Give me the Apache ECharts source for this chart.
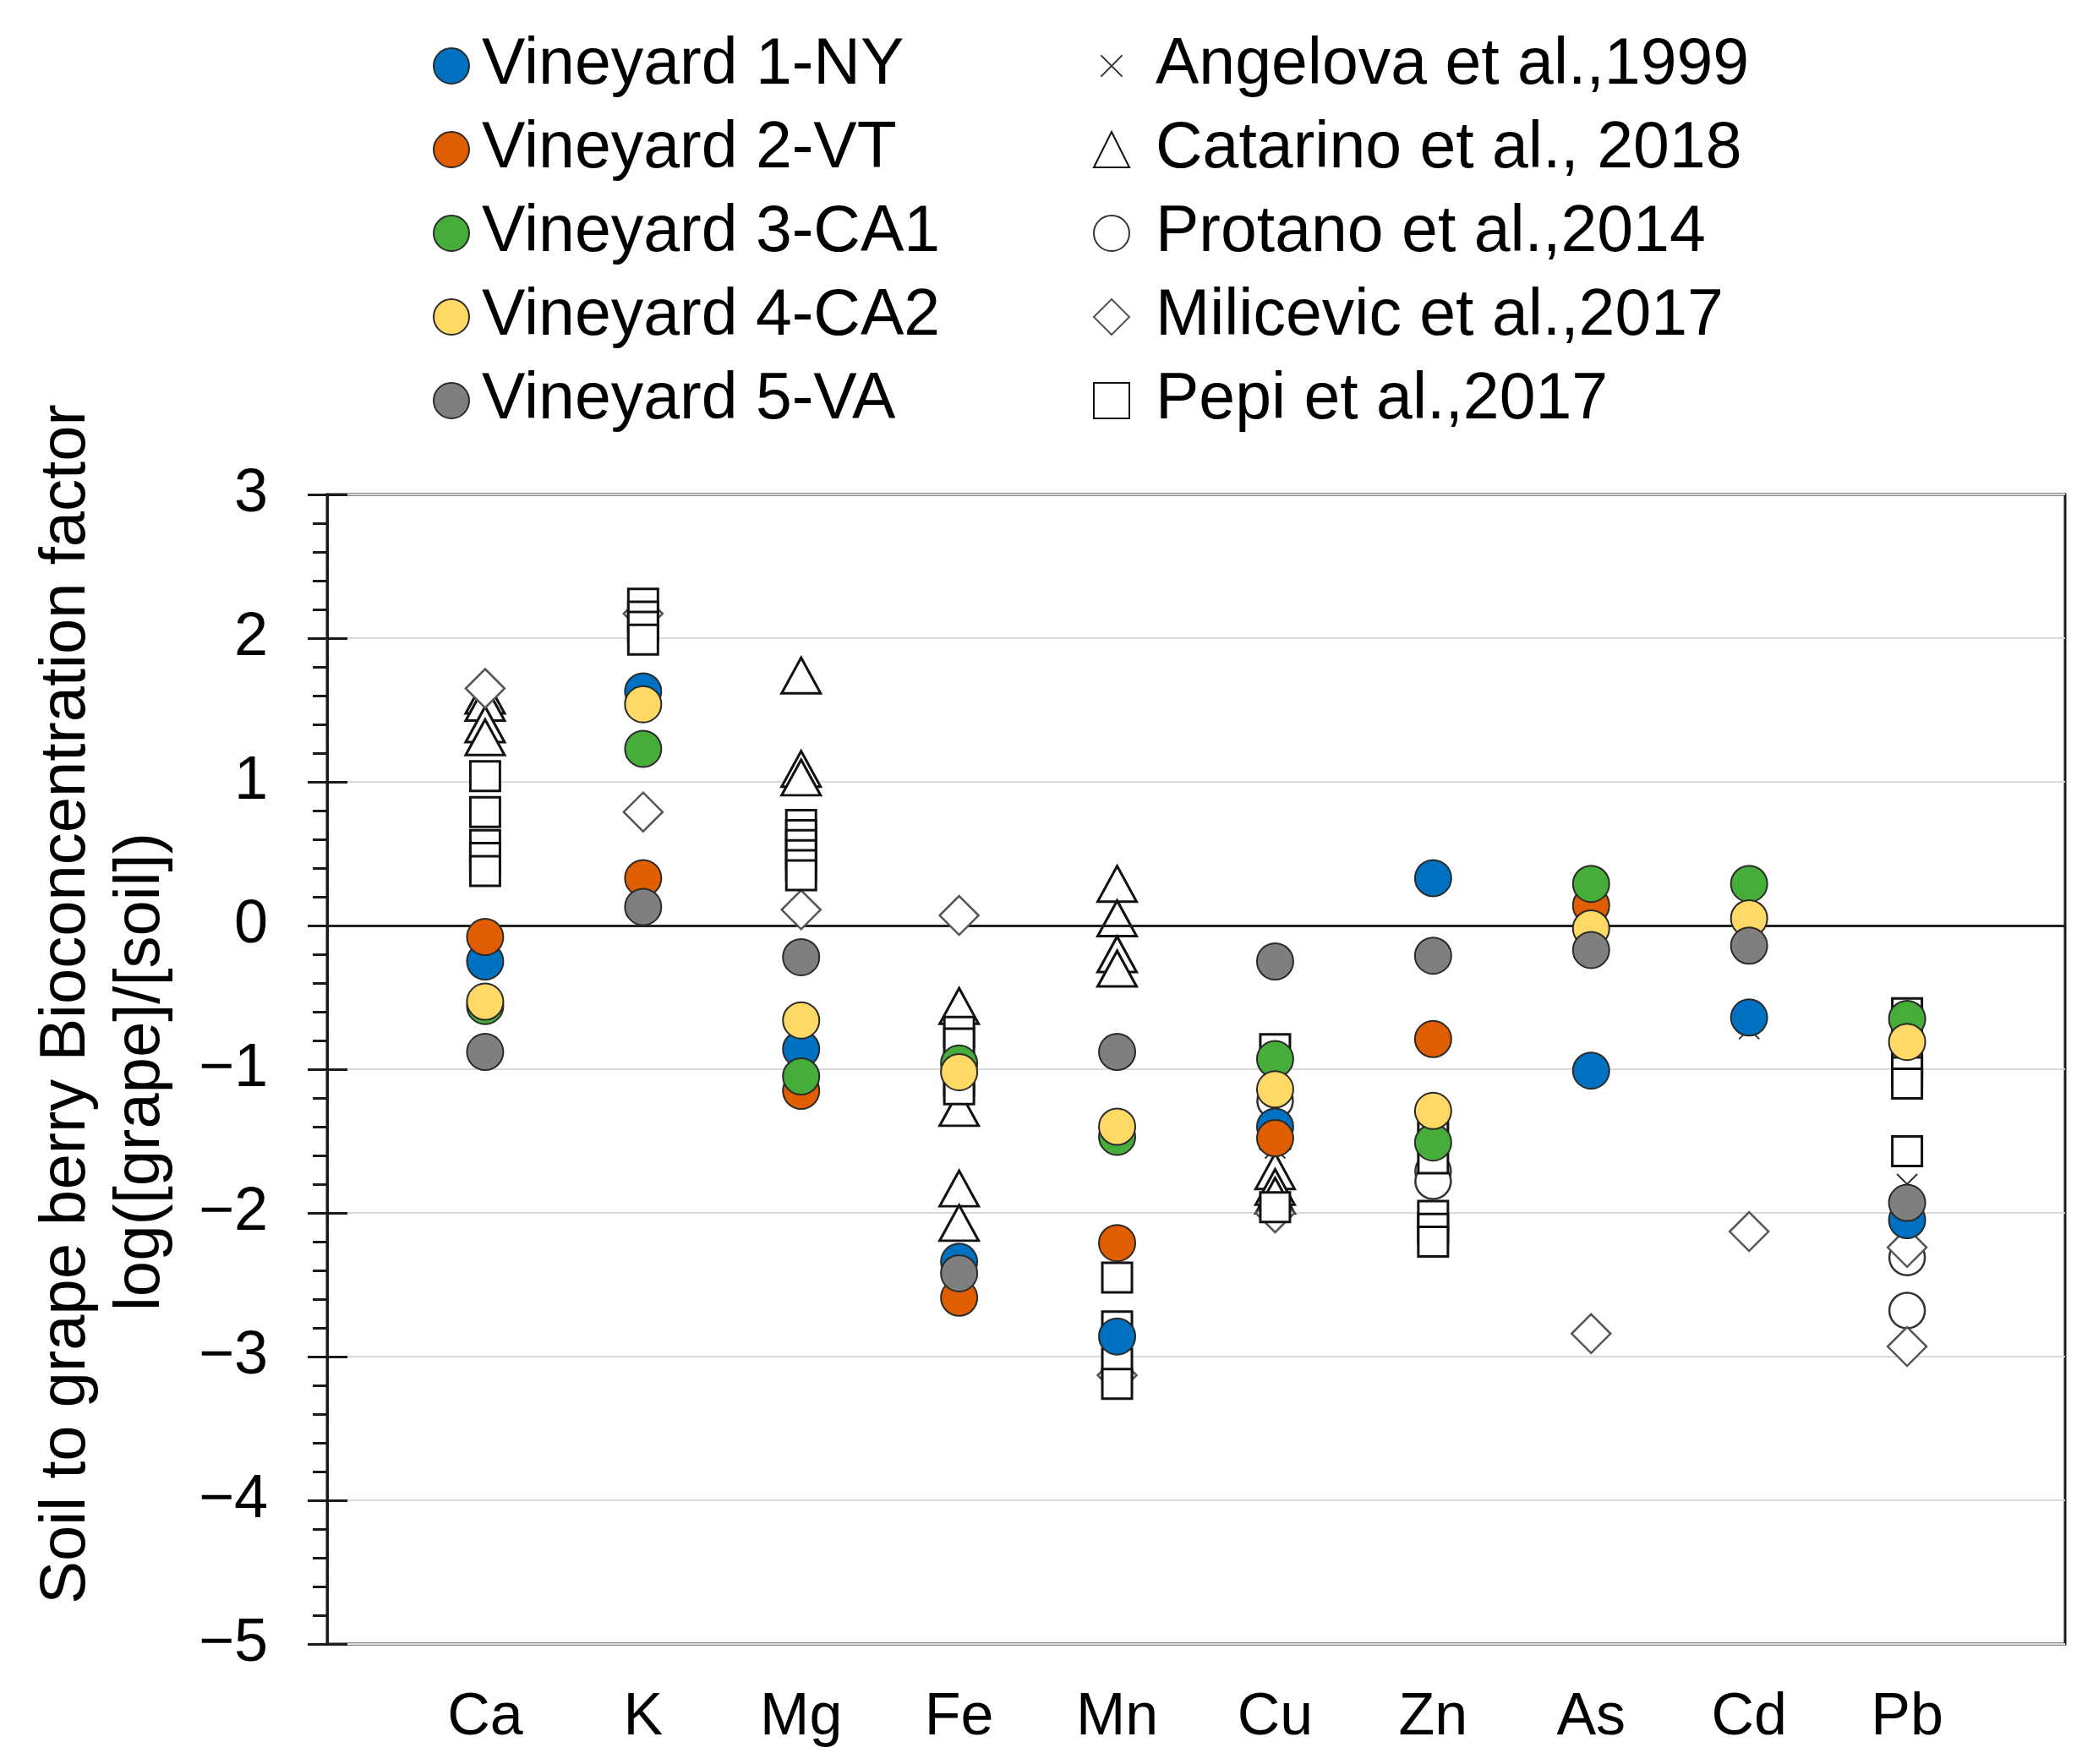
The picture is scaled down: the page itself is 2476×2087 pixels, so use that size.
<!DOCTYPE html>
<html>
<head>
<meta charset="utf-8">
<script src="https://cdn.jsdelivr.net/npm/echarts@6/dist/echarts.min.js"></script>
<style>
  body { margin: 0; background: #fff; }
  #chart { width: 2476px; height: 2087px; }
</style>
</head>
<body>
<div id="chart"></div>
<script>
// elements on the x axis
const elements = ['Ca', 'K', 'Mg', 'Fe', 'Mn', 'Cu', 'Zn', 'As', 'Cd', 'Pb'];
const yTicks = [-5, -4, -3, -2, -1, 0, 1, 2, 3];

// this study, one value per element (null = none)
const vineyard1 = [-0.25, 1.63, -0.86, -2.34, -2.86, -1.40, 0.33, -1.01, -0.64, -2.05];
const vineyard2 = [-0.08, 0.33, -1.15, -2.59, -2.21, -1.48, -0.79, 0.14, null, null];
const vineyard3 = [-0.56, 1.23, -1.05, -0.96, -1.47, -0.93, -1.51, 0.29, 0.29, -0.65];
const vineyard4 = [-0.53, 1.54, -0.66, -1.02, -1.40, -1.14, -1.29, -0.02, 0.05, -0.81];
const vineyard5 = [-0.88, 0.13, -0.22, -2.42, -0.88, -0.25, -0.21, -0.17, -0.14, -1.93];

// literature, list of values per element
const angelova = [[], [2.13], [], [], [-3.08], [-1.55], [-2.05, -2.17], [], [-0.07, -0.72], [-1.80]];
const catarino = [[1.60, 1.55, 1.40, 1.31], [], [1.74, 1.09, 1.03], [-0.56, -1.27, -1.83, -2.07],
  [0.29, 0.05, -0.20, -0.30], [-1.71, -1.82, -1.88], [], [], [], []];
const protano = [[], [], [], [], [], [-1.22], [-1.71, -1.78], [], [], [-2.31, -2.68]];
const milicevic = [[1.65], [2.17, 0.79], [0.11], [0.07], [-3.13], [-2.0], [], [-2.84], [-2.13], [-2.24, -2.93]];
const pepi = [[1.04, 0.79, 0.56, 0.47, 0.38], [2.24, 2.15, 2.08, 1.99], [0.70, 0.63, 0.56, 0.49, 0.42, 0.35],
  [-0.74, -0.82, -1.08, -1.14], [-2.45, -2.79, -3.05, -3.19], [-0.86, -1.45, -1.96],
  [-1.42, -1.62, -2.02, -2.11, -2.20], [], [], [-0.61, -0.68, -0.95, -1.02, -1.10, -1.57]];

const FONT = '"Liberation Sans", Arial, sans-serif';
const crossPath = 'path://M0,0M40,40M8,8L32,32M32,8L8,32';

function pointsOne(arr) {
  return arr.map((v, i) => v == null ? null : [i + 1, v]).filter(p => p);
}
function pointsMany(arr) {
  const out = [];
  arr.forEach((vals, i) => vals.forEach(v => out.push([i + 1, v])));
  return out;
}
function minus(v) { return String(v).replace('-', '\u2212'); }

const chart = echarts.init(document.getElementById('chart'));

const litSeries = [
  { name: 'Angelova et al.,1999', data: pointsMany(angelova), symbol: crossPath, symbolSize: 40,
    itemStyle: { color: 'rgba(0,0,0,0)', borderColor: '#333', borderWidth: 2 } },
  { name: 'Catarino et al., 2018', data: pointsMany(catarino), symbol: 'triangle', symbolSize: [46, 42],
    itemStyle: { color: '#fff', borderColor: '#111', borderWidth: 3 } },
  { name: 'Protano et al.,2014', data: pointsMany(protano), symbol: 'circle', symbolSize: 42,
    itemStyle: { color: '#fff', borderColor: '#333', borderWidth: 2.5 } },
  { name: 'Milicevic et al.,2017', data: pointsMany(milicevic), symbol: 'diamond', symbolSize: 46,
    itemStyle: { color: '#fff', borderColor: '#555', borderWidth: 2.5 } },
  { name: 'Pepi et al.,2017', data: pointsMany(pepi), symbol: 'rect', symbolSize: 35,
    itemStyle: { color: '#fff', borderColor: '#111', borderWidth: 3 } }
];

const vyColors = ['#0070c0', '#e05e00', '#46ad3a', '#ffd966', '#7f7f7f'];
const vyData = [vineyard1, vineyard2, vineyard3, vineyard4, vineyard5];
const vyNames = ['Vineyard 1-NY', 'Vineyard 2-VT', 'Vineyard 3-CA1', 'Vineyard 4-CA2', 'Vineyard 5-VA'];
const vySeries = vyData.map((arr, k) => ({
  name: vyNames[k], data: pointsOne(arr), symbol: 'circle', symbolSize: 43,
  itemStyle: { color: vyColors[k], borderColor: '#2a2a2a', borderWidth: 2 }
}));

const series = litSeries.concat(vySeries).map((s, k) => {
  s.itemStyle.opacity = 1;
  return Object.assign({ type: 'scatter', z: 2 + k, silent: true }, s);
});

// zero line
series[0].markLine = {
  silent: true, symbol: 'none', label: { show: false },
  lineStyle: { color: '#222', width: 3, type: 'solid' },
  data: [{ yAxis: 0 }]
};

const legendText = pad => ({
  fontSize: 77, fontFamily: FONT, color: '#000', lineHeight: 80, padding: [0, 0, 0, pad]
});

const option = {
  animation: false,
  backgroundColor: '#fff',
  grid: {
    left: 387, right: 33, top: 585, bottom: 142,
    show: true, borderColor: '#1a1a1a', borderWidth: 3, backgroundColor: 'transparent'
  },
  legend: [
    {
      data: vyNames, orient: 'vertical', left: 507, top: 33,
      itemWidth: 42, itemHeight: 42, itemGap: 19,
      textStyle: legendText(10), selectedMode: false
    },
    {
      data: litSeries.map(s => s.name), orient: 'vertical', left: 1288, top: 33,
      itemWidth: 42, itemHeight: 42, itemGap: 19,
      textStyle: legendText(26), selectedMode: false
    }
  ],
  xAxis: {
    type: 'value', min: 0, max: elements.length + 1, interval: 1,
    axisLine: { show: false },
    axisTick: { show: false },
    splitLine: { show: false },
    axisLabel: {
      fontSize: 70, fontFamily: FONT, color: '#000', margin: 53,
      formatter: v => elements[v - 1] || ''
    }
  },
  yAxis: [
    {
      type: 'value', min: yTicks[0], max: yTicks[yTicks.length - 1], interval: 1,
      axisLine: { show: true, lineStyle: { color: '#1a1a1a', width: 3 } },
      axisTick: { show: true, length: 23, lineStyle: { color: '#1a1a1a', width: 3 } },
      minorTick: { show: true, splitNumber: 5, length: 17, lineStyle: { color: '#1a1a1a', width: 3 } },
      splitLine: { show: true, lineStyle: { color: '#d9d9d9', width: 2 } },
      axisLabel: { fontSize: 72, fontFamily: FONT, color: '#000', margin: 70, formatter: minus }
    },
    {
      type: 'value', position: 'left', min: yTicks[0], max: yTicks[yTicks.length - 1], interval: 1,
      axisLine: { show: false },
      axisTick: { show: true, inside: true, length: 24, lineStyle: { color: '#1a1a1a', width: 3 } },
      splitLine: { show: false },
      axisLabel: { show: false }
    }
  ],
  graphic: [
    {
      type: 'text', x: 79, y: 1188, rotation: Math.PI / 2,
      style: {
        text: 'Soil to grape berry Bioconcentration factor',
        fontSize: 76, fontFamily: FONT, fill: '#000',
        textAlign: 'center', textVerticalAlign: 'middle', align: 'center', verticalAlign: 'middle'
      }
    },
    {
      type: 'text', x: 167, y: 1268, rotation: Math.PI / 2,
      style: {
        text: 'log([grape]/[soil])',
        fontSize: 76, fontFamily: FONT, fill: '#000',
        textAlign: 'center', textVerticalAlign: 'middle', align: 'center', verticalAlign: 'middle'
      }
    }
  ],
  series: series
};

chart.setOption(option);
</script>
</body>
</html>
